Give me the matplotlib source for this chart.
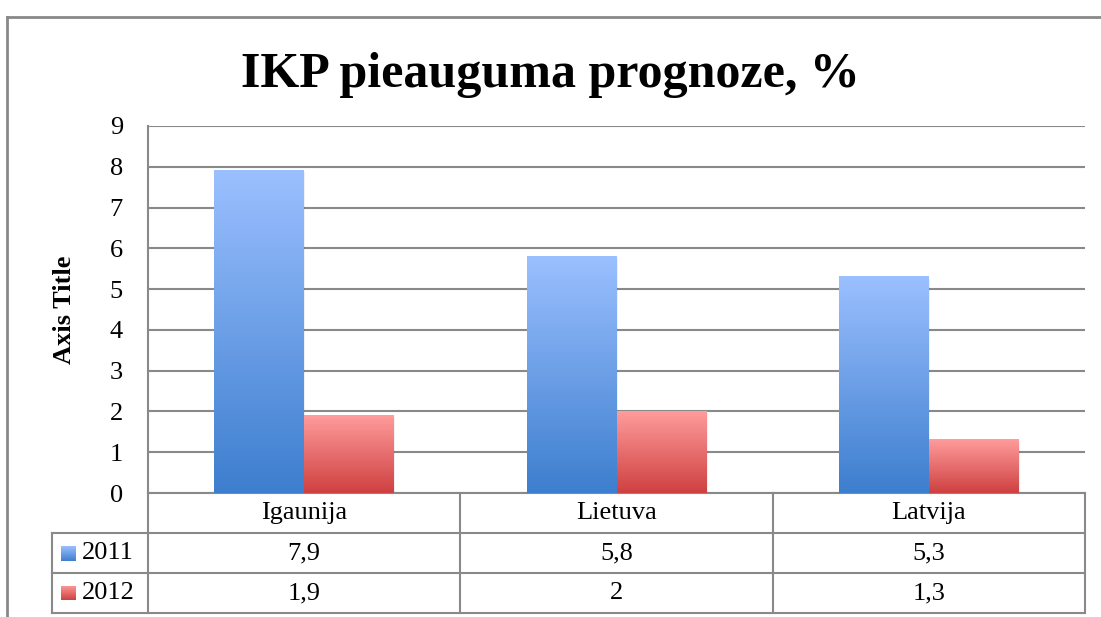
import numpy as np
import matplotlib
matplotlib.use('Agg')
import matplotlib.pyplot as plt
import matplotlib.transforms as mtransforms
from matplotlib.colors import LinearSegmentedColormap
from matplotlib.patches import Rectangle

# data
countries = ['Igaunija', 'Lietuva', 'Latvija']
years = ['2011', '2012']
v2011 = [7.9, 5.8, 5.3]
v2012 = [1.9, 2.0, 1.3]
labels2011 = ['7,9', '5,8', '5,3']
labels2012 = ['1,9', '2', '1,3']

plt.rcParams['font.family'] = ['Liberation Serif', 'DejaVu Serif']

W, H = 1101, 617
fig = plt.figure(figsize=(W / 100, H / 100), dpi=100)
ax = fig.add_axes([148 / W, 1 - 493 / H, 937 / W, 367 / H])

grey = '#898989'
fs = 19
blue_cm = LinearSegmentedColormap.from_list('b', ['#3d7ece', '#9bc0ff'])
red_cm = LinearSegmentedColormap.from_list('r', ['#cf4040', '#ff9c9c'])

x = np.arange(len(countries))
bw = 0.288
b1 = ax.bar(x - bw / 2, v2011, bw, color='none', zorder=3)
b2 = ax.bar(x + bw / 2, v2012, bw, color='none', zorder=3)

grad = np.linspace(0, 1, 256).reshape(-1, 1)
for bars, cm in [(b1, blue_cm), (b2, red_cm)]:
    for p in bars:
        x0, y0 = p.get_x(), p.get_y()
        w, h = p.get_width(), p.get_height()
        # soft shadow
        ax.add_patch(Rectangle((x0 + 0.004, y0), w, h - 0.04, color='#000000',
                               alpha=0.06, zorder=2, lw=0))
        ax.imshow(grad, cmap=cm, origin='lower', aspect='auto',
                  extent=(x0, x0 + w, y0, y0 + h), zorder=3)

ax.set_xlim(-0.5, 2.5)
ax.set_ylim(0, 9)
ax.set_yticks(range(10))
ax.yaxis.grid(True, color=grey, lw=1.5, zorder=1)
ax.set_axisbelow(True)
ax.tick_params(axis='y', length=0, labelsize=fs, pad=18)
ax.set_xticks([])
for s in ['top', 'right', 'bottom']:
    ax.spines[s].set_visible(False)
ax.spines['left'].set_color(grey)
ax.spines['left'].set_linewidth(1.5)

ax.set_ylabel('Axis Title', fontsize=19, fontweight='bold', labelpad=24)
fig.text(0.5, 1 - 75 / H, 'IKP pieauguma prognoze, %', ha='center', va='center',
         fontsize=36, fontweight='bold')

# data table under the plot
tr = mtransforms.blended_transform_factory(ax.transData, ax.transAxes)
rh = 40 / 367
left_x = -0.5 - 96 / 937 * 3
rows_y = [0, -rh, -2 * rh, -3 * rh]
kw = dict(color=grey, lw=1.5, clip_on=False, transform=tr)
# horizontal lines
ax.plot([-0.5, 2.5], [0, 0], **kw)
for yy in rows_y[1:]:
    ax.plot([left_x, 2.5], [yy, yy], **kw)
# vertical lines
for xx in [-0.5, 0.5, 1.5, 2.5]:
    ax.plot([xx, xx], [0, rows_y[-1]], **kw)
ax.plot([left_x, left_x], [rows_y[1], rows_y[-1]], **kw)

for i, c in enumerate(countries):
    ax.text(i, -rh / 2, c, transform=tr, ha='center', va='center', fontsize=fs)
    ax.text(i, -1.5 * rh, labels2011[i], transform=tr, ha='center', va='center', fontsize=fs)
    ax.text(i, -2.5 * rh, labels2012[i], transform=tr, ha='center', va='center', fontsize=fs)

for k, (yr, cm) in enumerate([(years[0], blue_cm), (years[1], red_cm)]):
    yc = 1 - (553 + 40 * k) / H
    sax = fig.add_axes([61 / W, yc - 7.5 / H, 15 / W, 15 / H])
    sax.imshow(grad, cmap=cm, origin='lower', aspect='auto')
    sax.axis('off')
    fig.text(82 / W, yc, yr, ha='left', va='center', fontsize=fs)

# outer chart border
fig.add_artist(plt.Line2D([7 / W, 7 / W], [0, 1 - 17 / H], color=grey, lw=2))
fig.add_artist(plt.Line2D([7 / W, 1], [1 - 17 / H, 1 - 17 / H], color=grey, lw=2))

fig.savefig('out.png', dpi=100)
